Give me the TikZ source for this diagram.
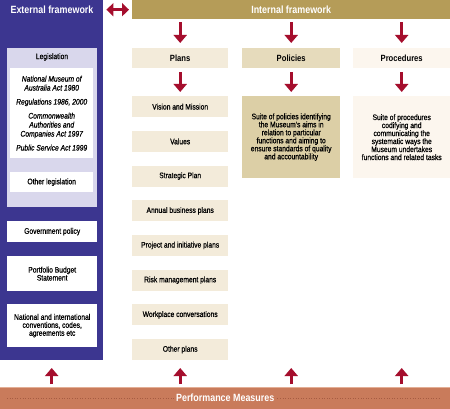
\documentclass[tikz,border=0pt]{standalone}
\usepackage{fontspec}
\setmainfont{Liberation Sans}[FakeStretch=0.85]
\newfontfamily\bodyfont{Liberation Sans}[FakeStretch=0.84,FakeBold=0.6]
\usetikzlibrary{arrows.meta,positioning}
\definecolor{extblue}{HTML}{3C3690}
\definecolor{legis}{HTML}{D9D7EC}
\definecolor{intgold}{HTML}{B59C58}
\definecolor{arrowred}{HTML}{A50E2D}
\definecolor{plancol}{HTML}{F3EBDA}
\definecolor{polhead}{HTML}{E6DBBC}
\definecolor{polbox}{HTML}{DCCFA6}
\definecolor{proccol}{HTML}{FCF6EE}
\definecolor{perf}{HTML}{C97B5B}
\definecolor{perftop}{HTML}{E3AE95}
\definecolor{perfdot}{HTML}{A65C42}

\begin{document}
\begin{tikzpicture}[x=1pt,y=-1pt,
    box/.style={anchor=north west,inner sep=0pt,align=center,font=\bodyfont\fontsize{8}{8}\selectfont},
    head/.style={box,font=\fontsize{9}{9}\selectfont\bfseries},
    bar/.style={inner sep=0pt,text=white,font=\fontsize{10.5}{10.5}\selectfont\bfseries},
    link/.style={draw=arrowred,line width=3pt,-{Triangle[width=13pt,length=8pt]}},
    twoway/.style={draw=arrowred,line width=3pt,{Triangle[width=13pt,length=7pt]}-{Triangle[width=13pt,length=7pt]}}]
    \fill[white] (0,0) rectangle (450,409);
    \useasboundingbox (0,0) rectangle (450,409);
    \node[box,fill=extblue,minimum width=103pt,minimum height=360pt] (ext) at (0,0) {};
    \node[bar] (exttitle) at (52,9.5) {External framework};
    \node[box,bar,anchor=north west,fill=intgold,minimum width=318pt,minimum height=19pt] (int) at (132,0) {Internal framework};
    \draw[twoway,shorten <=3pt,shorten >=3pt] (int.west -| ext.east) -- (int.west);
    \node[box,fill=legis,minimum width=90pt,minimum height=159pt] (legis) at (7,48) {};
    \node[box,anchor=center] (legistitle) at (52,57) {Legislation};
    \node[box,fill=white,minimum width=83pt,minimum height=90pt,font=\bodyfont\fontsize{8}{9}\selectfont\itshape] (acts) at (10,68)
        {National Museum of\\Australia Act 1980\\[5pt]Regulations 1986, 2000\\[5pt]Commonwealth\\Authorities and\\Companies Act 1997\\[5pt]Public Service Act 1999};
    \node[box,fill=white,minimum width=83pt,minimum height=20pt] (otherleg) at (10,172) {Other legislation};
    \node[box,fill=white,minimum width=90pt,minimum height=21pt] (govt) at (7,221) {Government policy};
    \node[box,fill=white,minimum width=90pt,minimum height=35pt] (pbs) at (7,256) {Portfolio Budget\\Statement};
    \node[box,fill=white,minimum width=90pt,minimum height=43pt] (intl) at (7,304) {National and international\\conventions, codes,\\agreements etc};
    \node[head,fill=plancol,minimum width=96pt,minimum height=20pt] (plans) at (132,48) {Plans};
    \node[head,fill=polhead,minimum width=98pt,minimum height=20pt] (policies) at (242,48) {Policies};
    \node[head,fill=proccol,minimum width=97pt,minimum height=20pt] (procedures) at (353,48) {Procedures};
    \foreach \t [count=\i] in {Vision and Mission,Values,Strategic Plan,Annual business plans,Project and initiative plans,Risk management plans,Workplace conversations,Other plans}
        \node[box,fill=plancol,minimum width=96pt,minimum height=21pt] (plan\i) at (132,{96+34.7*(\i-1)}) {\t};
    \node[box,fill=polbox,minimum width=98pt,minimum height=82pt] (poltext) at (242,96)
        {Suite of policies identifying\\the Museum's aims in\\relation to particular\\functions and aiming to\\ensure standards of quality\\and accountability};
    \node[box,fill=proccol,minimum width=97pt,minimum height=82pt] (proctext) at (353,96)
        {Suite of procedures\\codifying and\\communicating the\\systematic ways the\\Museum undertakes\\functions and related tasks};
    \foreach \n in {plans,policies,procedures}
        \draw[link,shorten <=3pt,shorten >=5pt] (int.south -| \n.north) -- (\n.north);
    \draw[link,shorten <=4pt,shorten >=4pt] (plans.south) -- (plan1.north);
    \draw[link,shorten <=4pt,shorten >=4pt] (policies.south) -- (poltext.north);
    \draw[link,shorten <=4pt,shorten >=4pt] (procedures.south) -- (proctext.north);
    \node[box,fill=perf,minimum width=450pt,minimum height=22pt] (perf) at (0,387) {};
    \draw[perftop,line width=1pt] ([yshift=-0.5pt]perf.north west) -- ([yshift=-0.5pt]perf.north east);
    \draw[perfdot,dotted,line width=0.6pt] ([xshift=7pt]perf.west) -- ([xshift=-10pt]perf.east);
    \node[bar,fill=perf,inner xsep=2pt] (perftitle) at (perf.center) {Performance Measures};
    \coordinate (reach) at (0,368);
    \foreach \n in {ext,plan8,poltext,proctext}
        \draw[link,shorten <=3pt] (perf.north -| \n.south) -- (reach -| \n.south);
\end{tikzpicture}
\end{document}
